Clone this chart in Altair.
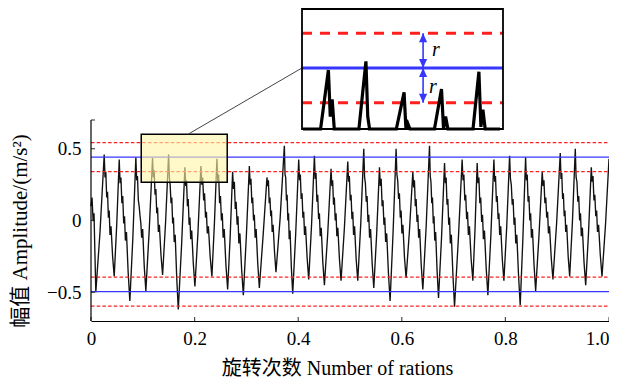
import altair as alt
import pandas as pd

# ---------------- data ----------------
start_x = [0.0, 0.0020, 0.0040, 0.0058]
start_y = [0.10, 0.16, 0.00, 0.05]

trough_x = [0.0093, 0.0448, 0.0750, 0.1059, 0.1382, 0.1685, 0.2006, 0.2334,
            0.2638, 0.2941, 0.3250, 0.3571, 0.3894, 0.4203, 0.4506, 0.4827,
            0.5150, 0.5459, 0.5774, 0.6083, 0.6406, 0.6709, 0.7018, 0.7372,
            0.7662, 0.7971, 0.8286, 0.8584, 0.8918, 0.9241, 0.9550, 0.9865]
trough_y = [-0.50, -0.39, -0.56, -0.49, -0.38, -0.62, -0.46, -0.39,
            -0.48, -0.52, -0.47, -0.36, -0.51, -0.41, -0.45, -0.42,
            -0.42, -0.47, -0.56, -0.40, -0.48, -0.54, -0.60, -0.42,
            -0.52, -0.42, -0.59, -0.49, -0.41, -0.39, -0.45, -0.39]
rise_mid_y = [-0.08, -0.03, -0.12, -0.07, -0.01, -0.17, -0.09, -0.02,
              -0.12, -0.11, -0.10, 0.02, -0.09, -0.03, -0.09, -0.05,
              -0.02, -0.10, -0.08, -0.07, -0.04, -0.12, -0.13, -0.06,
              -0.10, -0.04, -0.12, -0.11, -0.02, 0.00, -0.09, -0.03]
peak_x = [0.0255, 0.0545, 0.0866, 0.1188, 0.1498, 0.1813, 0.2122, 0.2431,
          0.2734, 0.3057, 0.3397, 0.3733, 0.4010, 0.4313, 0.4634, 0.4957,
          0.5266, 0.5569, 0.5890, 0.6213, 0.6535, 0.6825, 0.7165, 0.7455,
          0.7778, 0.8081, 0.8390, 0.8711, 0.9059, 0.9349, 0.9658]
peak_y = [0.46, 0.425, 0.44, 0.435, 0.46, 0.37, 0.38, 0.43,
          0.34, 0.38, 0.30, 0.52, 0.425, 0.45, 0.36, 0.41,
          0.50, 0.37, 0.50, 0.34, 0.52, 0.40, 0.425, 0.40,
          0.425, 0.45, 0.44, 0.34, 0.47, 0.50, 0.37]
fall_y = [
    [0.30, 0.34, 0.16, 0.20, 0.02, 0.07, -0.10, -0.04, -0.25],
    [0.26, 0.30, 0.12, 0.17, -0.02, 0.03, -0.14, -0.08, -0.36],
    [0.28, 0.31, 0.14, 0.10, 0.03, -0.02, -0.12, -0.06, -0.32],
    [0.30, 0.35, 0.18, 0.22, 0.05, 0.09, -0.08, -0.03, -0.24],
    [0.30, 0.25, 0.12, 0.16, -0.02, 0.02, -0.15, -0.10, -0.40],
    [0.24, 0.28, 0.10, 0.15, -0.03, 0.02, -0.13, -0.07, -0.30],
    [0.25, 0.30, 0.14, 0.19, 0.02, 0.06, -0.09, -0.04, -0.25],
    [0.27, 0.32, 0.12, 0.17, 0.00, 0.05, -0.12, -0.06, -0.31],
    [0.22, 0.27, 0.08, 0.13, -0.03, 0.03, -0.16, -0.09, -0.34],
    [0.25, 0.29, 0.12, 0.16, 0.00, 0.04, -0.12, -0.06, -0.30],
    [0.24, 0.28, 0.12, 0.16, 0.03, 0.07, -0.08, -0.03, -0.22],
    [0.32, 0.30, 0.14, 0.18, 0.00, 0.05, -0.13, -0.07, -0.33],
    [0.28, 0.32, 0.15, 0.19, 0.02, 0.06, -0.10, -0.04, -0.26],
    [0.29, 0.33, 0.13, 0.18, 0.01, 0.05, -0.11, -0.05, -0.29],
    [0.24, 0.28, 0.11, 0.16, 0.00, 0.05, -0.11, -0.05, -0.27],
    [0.27, 0.31, 0.14, 0.18, 0.01, 0.06, -0.10, -0.04, -0.27],
    [0.30, 0.26, 0.13, 0.17, -0.01, 0.04, -0.12, -0.06, -0.30],
    [0.24, 0.29, 0.10, 0.14, -0.03, 0.02, -0.15, -0.09, -0.36],
    [0.32, 0.28, 0.15, 0.19, 0.02, 0.07, -0.09, -0.03, -0.26],
    [0.23, 0.28, 0.10, 0.15, -0.01, 0.04, -0.12, -0.06, -0.31],
    [0.31, 0.27, 0.12, 0.16, -0.02, 0.03, -0.14, -0.08, -0.35],
    [0.26, 0.30, 0.11, 0.15, -0.03, 0.02, -0.16, -0.10, -0.38],
    [0.28, 0.32, 0.14, 0.18, 0.01, 0.06, -0.10, -0.04, -0.27],
    [0.26, 0.30, 0.12, 0.16, -0.01, 0.04, -0.13, -0.07, -0.33],
    [0.27, 0.31, 0.13, 0.17, 0.01, 0.05, -0.10, -0.04, -0.27],
    [0.29, 0.25, 0.11, 0.15, -0.03, 0.02, -0.16, -0.10, -0.38],
    [0.28, 0.32, 0.13, 0.17, 0.00, 0.05, -0.12, -0.06, -0.31],
    [0.24, 0.28, 0.12, 0.16, 0.02, 0.06, -0.09, -0.04, -0.26],
    [0.29, 0.33, 0.15, 0.19, 0.03, 0.07, -0.08, -0.03, -0.25],
    [0.30, 0.27, 0.13, 0.17, 0.00, 0.05, -0.11, -0.05, -0.29],
    [0.27, 0.31, 0.14, 0.18, 0.03, 0.07, -0.08, -0.03, -0.24],
]
end_x = 1.0
end_y = 0.43

band_center = [0.441, -0.495]      # blue solid lines
band_r = 0.101                     # red dashed lines at center +/- r
x_tick_values = [0, 0.2, 0.4, 0.6, 0.8, 1.0]
y_tick_values = [-0.5, 0, 0.5]
y_lo, y_hi = -0.7, 0.7
zoom_box = {"x0": 0.097, "x1": 0.263, "y0": 0.267, "y1": 0.600}
inset_win = {"x0": 0.097, "x1": 0.263, "y0": 0.264, "y1": 0.612}
connector_from = (0.187, 0.600)
arrow_x = 0.197
r_label_x = [0.2044, 0.2019]
r_label_y = [0.493, 0.386]

# sample positions of the falling flank between a peak and the next trough
FALL_POS = [0.08, 0.16, 0.25, 0.33, 0.42, 0.50, 0.58, 0.68, 0.84]

xs, ys = list(start_x), list(start_y)
for k in range(len(trough_x)):
    xs.append(trough_x[k]); ys.append(trough_y[k])
    nx = peak_x[k] if k < len(peak_x) else end_x
    ny = peak_y[k] if k < len(peak_y) else end_y
    xs.append((trough_x[k] + nx) / 2); ys.append(rise_mid_y[k])
    xs.append(nx); ys.append(ny)
    if k < len(peak_x):
        gap = trough_x[k + 1] - peak_x[k]
        for f, v in zip(FALL_POS, fall_y[k]):
            xs.append(peak_x[k] + f * gap); ys.append(v)
sig = pd.DataFrame({"x": xs, "y": ys})

# ---------------- layout ----------------
W, H = 518, 312
MAIN_TOP = 111                      # pixel row of y=0.7 in the plot area
ppu = (H - MAIN_TOP) / (y_hi - y_lo)
y_ext = y_hi + MAIN_TOP / ppu
INSET = {"left": 211, "right": 412, "top": 0, "bottom": 120}
sx = (inset_win["x1"] - inset_win["x0"]) / (INSET["right"] - INSET["left"])
sy = (inset_win["y1"] - inset_win["y0"]) / (INSET["bottom"] - INSET["top"])
ix_dom = [inset_win["x0"] - INSET["left"] * sx, inset_win["x1"] + (W - INSET["right"]) * sx]
iy_dom = [inset_win["y0"] - (H - INSET["bottom"]) * sy, inset_win["y1"] + INSET["top"] * sy]

SERIF = "Liberation Serif, Noto Sans CJK SC, serif"
BLUE = "#3636ff"
RED = "#ff1f1f"

XS = alt.Scale(domain=[0, 1], nice=False, zero=False)
YS = alt.Scale(domain=[y_lo, y_ext], nice=False, zero=False)
IXS = alt.Scale(domain=ix_dom, nice=False, zero=False)
IYS = alt.Scale(domain=iy_dom, nice=False, zero=False)


def mx(f):
    return alt.X(f, type="quantitative", scale=XS, axis=None)


def my(f):
    return alt.Y(f, type="quantitative", scale=YS, axis=None)


def ix(f):
    return alt.X(f, type="quantitative", scale=IXS, axis=None)


def iy(f):
    return alt.Y(f, type="quantitative", scale=IYS, axis=None)


x_axis = alt.Axis(orient="bottom", values=x_tick_values,
                  labelExpr="datum.value == 0 ? '0' : format(datum.value, '.1f')",
                  labelAlign={"condition": {"test": "datum.value >= 1", "value": "right"},
                              "value": "center"},
                  ticks=False, tickSize=0, domain=True, domainColor="black", domainWidth=1.2,
                  grid=False, labelFont=SERIF, labelFontSize=19, labelColor="black",
                  labelPadding=8, title="旋转次数 Number of rations", titleFont=SERIF,
                  titleFontSize=20, titleFontWeight="normal", titleColor="black",
                  titleX=246, titleY=47, titleBaseline="middle", titleAlign="center")
y_axis = alt.Axis(orient="left", values=y_tick_values,
                  labelExpr="datum.value == 0 ? '0' : format(datum.value, '.1f')",
                  ticks=False, tickSize=0, domain=False, grid=False, labelFont=SERIF,
                  labelFontSize=19, labelColor="black", labelPadding=10,
                  title="幅值 Amplitude/(m/s²)", titleFont=SERIF, titleFontSize=21,
                  titleFontWeight="normal", titleColor="black", titleX=-71, titleY=221.5,
                  titleAngle=270, titleBaseline="middle", titleAlign="center")

red_df = pd.DataFrame({"y": [c + s * band_r for c in band_center for s in (1, -1)],
                       "x0": 0.0, "x1": 1.0})
blue_df = pd.DataFrame({"y": band_center, "x0": 0.0, "x1": 1.0})

red = alt.Chart(red_df).mark_rule(color=RED, strokeWidth=1.3, strokeDash=[3.5, 2.2]).encode(
    x=mx("x0"), x2="x1:Q", y=my("y"))
blue = alt.Chart(blue_df).mark_rule(color=BLUE, strokeWidth=1.3).encode(
    x=mx("x0"), x2="x1:Q", y=my("y"))
signal = alt.Chart(sig).mark_line(color="#111111", strokeWidth=1.35).encode(
    x=alt.X("x:Q", scale=XS, axis=x_axis),
    y=alt.Y("y:Q", scale=YS, axis=y_axis))
box_df = pd.DataFrame([zoom_box])
rect = alt.Chart(box_df).mark_rect(fill="#fff6a8", fillOpacity=0.62, stroke="black",
                                   strokeWidth=1.5).encode(
    x=mx("x0"), x2="x1:Q", y=my("y0"), y2="y1:Q")
yline = alt.Chart(pd.DataFrame({"x": [0.0], "y0": [y_lo], "y1": [y_hi]})).mark_rule(
    color="black", strokeWidth=1.2).encode(x=mx("x"), y=my("y0"), y2="y1:Q")
xt = alt.Chart(pd.DataFrame({"x": x_tick_values, "y": [y_lo] * len(x_tick_values)})).mark_tick(
    orient="vertical", size=4, thickness=1.2, color="black", yOffset=-2).encode(x=mx("x"), y=my("y"))
yt_vals = y_tick_values + [y_hi]
yt = alt.Chart(pd.DataFrame({"x": [0.0] * len(yt_vals), "y": yt_vals})).mark_tick(
    orient="horizontal", size=4, thickness=1.2, color="black", xOffset=2).encode(x=mx("x"), y=my("y"))
conn_end_x = INSET["left"] / W
conn_end_y = y_ext - (INSET["top"] + (inset_win["y1"] - band_center[0]) / sy) / ppu
conn = alt.Chart(pd.DataFrame({"x": [connector_from[0]], "y": [connector_from[1]],
                               "x2": [conn_end_x], "y2": [conn_end_y]})).mark_rule(
    color="#444444", strokeWidth=1).encode(x=mx("x"), y=my("y"), x2="x2:Q", y2="y2:Q")

# ---------------- inset ----------------
win_df = pd.DataFrame([inset_win])
ibg = alt.Chart(win_df).mark_rect(fill="white").encode(
    x=ix("x0"), x2="x1:Q", y=iy("y0"), y2="y1:Q")
ired_df = pd.DataFrame({"y": [band_center[0] + band_r, band_center[0] - band_r],
                        "x0": inset_win["x0"], "x1": inset_win["x1"]})
ired = alt.Chart(ired_df).mark_rule(color=RED, strokeWidth=3, strokeDash=[10, 8]).encode(
    x=ix("x0"), x2="x1:Q", y=iy("y"))
iblue = alt.Chart(pd.DataFrame({"y": [band_center[0]], "x0": [inset_win["x0"]],
                                "x1": [inset_win["x1"]]})).mark_rule(
    color=BLUE, strokeWidth=3).encode(x=ix("x0"), x2="x1:Q", y=iy("y"))
isig = alt.Chart(sig).transform_filter(
    f"datum.x >= {inset_win['x0']} && datum.x <= {inset_win['x1']}"
).transform_calculate(yc=f"max(datum.y, {inset_win['y0']})").mark_line(
    color="black", strokeWidth=3.2).encode(x=ix("x"), y=iy("yc"))
ishaft = alt.Chart(pd.DataFrame({"x": [arrow_x], "y0": [band_center[0] - band_r],
                                 "y1": [band_center[0] + band_r]})).mark_rule(
    color=BLUE, strokeWidth=1.6).encode(x=ix("x"), y=iy("y0"), y2="y1:Q")
up_df = pd.DataFrame({"x": [arrow_x, arrow_x], "y": [band_center[0] + band_r, band_center[0]]})
dn_df = pd.DataFrame({"x": [arrow_x, arrow_x], "y": [band_center[0], band_center[0] - band_r]})
iup = alt.Chart(up_df).mark_point(shape="M0,0L-0.45,1L0.45,1Z", size=324, filled=True,
                                  color=BLUE, opacity=1, strokeWidth=0).encode(x=ix("x"), y=iy("y"))
idn = alt.Chart(dn_df).mark_point(shape="M0,0L-0.45,-1L0.45,-1Z", size=324, filled=True,
                                  color=BLUE, opacity=1, strokeWidth=0).encode(x=ix("x"), y=iy("y"))
itext = alt.Chart(pd.DataFrame({"x": r_label_x, "y": r_label_y, "t": ["r", "r"]})).mark_text(
    font="Liberation Serif", fontStyle="italic", fontSize=20, align="left", baseline="middle",
    color="black").encode(x=ix("x"), y=iy("y"), text="t:N")
ibox = alt.Chart(win_df).mark_rect(fillOpacity=0, stroke="black", strokeWidth=1.8).encode(
    x=ix("x0"), x2="x1:Q", y=iy("y0"), y2="y1:Q")

chart = alt.layer(
    signal, red, blue, rect, yline, xt, yt, conn,
    ibg, ired, iblue, isig, ishaft, iup, idn, itext, ibox,
).resolve_scale(x="independent", y="independent").properties(
    width=W, height=H,
    autosize=alt.AutoSizeParams(type="none"),
    padding={"left": 83, "top": 1, "right": 0, "bottom": 57},
).configure_view(stroke=None)

chart.save("out.html", embed_options={"renderer": "svg", "actions": False})
